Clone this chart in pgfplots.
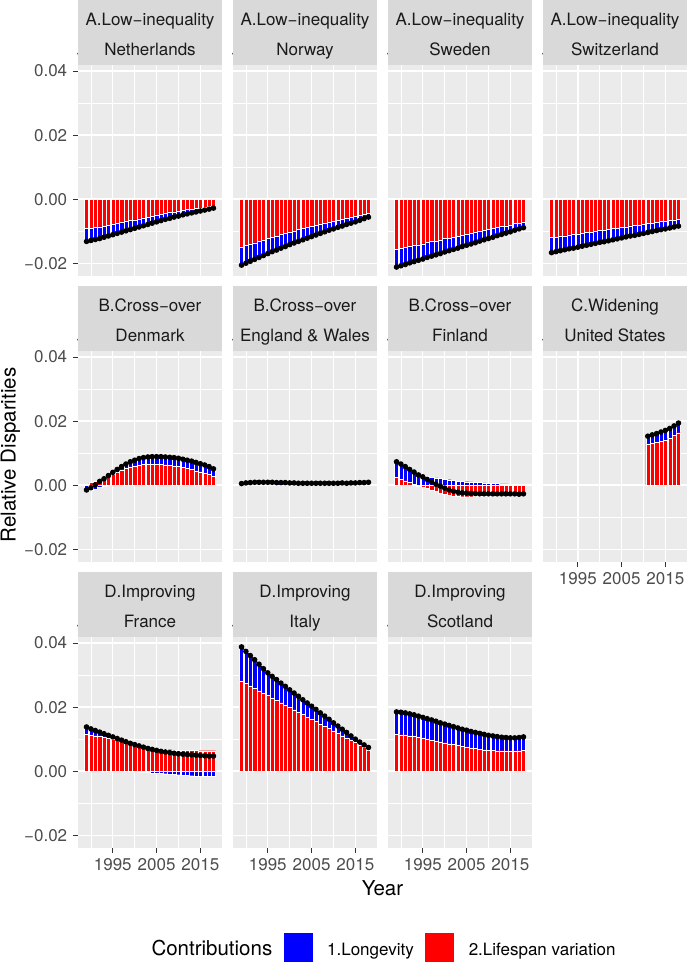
\documentclass[border=0pt]{standalone}
\usepackage{fontspec}
\setmainfont{TeX Gyre Heros}
\usepackage{pgfplots}
\usepackage{pgfplotstable}
\pgfplotsset{compat=1.18}
\definecolor{panelbg}{HTML}{EBEBEB}
\definecolor{stripbg}{HTML}{D9D9D9}
\definecolor{ticktext}{HTML}{4D4D4D}
\definecolor{tickcol}{HTML}{333333}
\definecolor{striptext}{HTML}{1A1A1A}
\definecolor{lvred}{HTML}{FF0000}
\definecolor{lgblue}{HTML}{0000FF}
\newcommand{\fs}{\fontsize{17}{20}\selectfont}
\newcommand{\fl}{\fontsize{20.5}{24}\selectfont}

% year, lv = 2.Lifespan variation, lg = 1.Longevity
\pgfplotstableread{
year lv lg
1989 -0.0092 -0.0040
1990 -0.0090 -0.0039
1991 -0.0088 -0.0038
1992 -0.0086 -0.0037
1993 -0.0084 -0.0035
1994 -0.0081 -0.0034
1995 -0.0078 -0.0033
1996 -0.0075 -0.0032
1997 -0.0072 -0.0031
1998 -0.0069 -0.0030
1999 -0.0066 -0.0029
2000 -0.0064 -0.0027
2001 -0.0061 -0.0026
2002 -0.0058 -0.0025
2003 -0.0055 -0.0024
2004 -0.0052 -0.0023
2005 -0.0049 -0.0022
2006 -0.0046 -0.0021
2007 -0.0044 -0.0019
2008 -0.0042 -0.0018
2009 -0.0039 -0.0017
2010 -0.0037 -0.0016
2011 -0.0034 -0.0015
2012 -0.0032 -0.0014
2013 -0.0030 -0.0013
2014 -0.0029 -0.0011
2015 -0.0027 -0.0010
2016 -0.0025 -0.0009
2017 -0.0023 -0.0008
2018 -0.0021 -0.0007
}\NLD
\pgfplotstableread{
year lv lg
1989 -0.0150 -0.0056
1990 -0.0145 -0.0055
1991 -0.0141 -0.0053
1992 -0.0136 -0.0052
1993 -0.0132 -0.0050
1994 -0.0127 -0.0049
1995 -0.0123 -0.0047
1996 -0.0118 -0.0046
1997 -0.0115 -0.0044
1998 -0.0110 -0.0043
1999 -0.0107 -0.0041
2000 -0.0102 -0.0040
2001 -0.0099 -0.0038
2002 -0.0095 -0.0037
2003 -0.0092 -0.0035
2004 -0.0088 -0.0034
2005 -0.0085 -0.0032
2006 -0.0081 -0.0031
2007 -0.0078 -0.0029
2008 -0.0074 -0.0028
2009 -0.0071 -0.0026
2010 -0.0068 -0.0025
2011 -0.0065 -0.0023
2012 -0.0062 -0.0022
2013 -0.0059 -0.0020
2014 -0.0056 -0.0019
2015 -0.0054 -0.0017
2016 -0.0050 -0.0016
2017 -0.0047 -0.0014
2018 -0.0043 -0.0013
}\NOR
\pgfplotstableread{
year lv lg
1989 -0.0156 -0.0056
1990 -0.0153 -0.0055
1991 -0.0151 -0.0053
1992 -0.0147 -0.0052
1993 -0.0144 -0.0051
1994 -0.0142 -0.0049
1995 -0.0139 -0.0048
1996 -0.0135 -0.0047
1997 -0.0132 -0.0046
1998 -0.0130 -0.0044
1999 -0.0127 -0.0043
2000 -0.0123 -0.0042
2001 -0.0121 -0.0040
2002 -0.0118 -0.0039
2003 -0.0115 -0.0038
2004 -0.0112 -0.0036
2005 -0.0109 -0.0035
2006 -0.0106 -0.0034
2007 -0.0104 -0.0032
2008 -0.0100 -0.0031
2009 -0.0097 -0.0030
2010 -0.0095 -0.0028
2011 -0.0092 -0.0027
2012 -0.0088 -0.0026
2013 -0.0085 -0.0025
2014 -0.0083 -0.0023
2015 -0.0080 -0.0022
2016 -0.0076 -0.0021
2017 -0.0074 -0.0019
2018 -0.0071 -0.0018
}\SWE
\pgfplotstableread{
year lv lg
1989 -0.0120 -0.0047
1990 -0.0118 -0.0046
1991 -0.0116 -0.0045
1992 -0.0114 -0.0044
1993 -0.0111 -0.0044
1994 -0.0110 -0.0043
1995 -0.0108 -0.0042
1996 -0.0106 -0.0041
1997 -0.0104 -0.0040
1998 -0.0102 -0.0039
1999 -0.0100 -0.0038
2000 -0.0097 -0.0038
2001 -0.0096 -0.0037
2002 -0.0094 -0.0036
2003 -0.0092 -0.0035
2004 -0.0090 -0.0034
2005 -0.0088 -0.0033
2006 -0.0086 -0.0032
2007 -0.0083 -0.0032
2008 -0.0082 -0.0031
2009 -0.0080 -0.0030
2010 -0.0078 -0.0029
2011 -0.0076 -0.0028
2012 -0.0074 -0.0027
2013 -0.0072 -0.0026
2014 -0.0069 -0.0026
2015 -0.0068 -0.0025
2016 -0.0066 -0.0024
2017 -0.0064 -0.0023
2018 -0.0062 -0.0022
}\CHE
\pgfplotstableread{
year lv lg
1989 0.0003 -0.0018
1990 0.0008 -0.0016
1991 0.0013 -0.0012
1992 0.0019 -0.0007
1993 0.0024 -0.0004
1994 0.0030 0.0000
1995 0.0036 0.0004
1996 0.0042 0.0007
1997 0.0048 0.0010
1998 0.0053 0.0013
1999 0.0057 0.0016
2000 0.0060 0.0018
2001 0.0063 0.0020
2002 0.0065 0.0021
2003 0.0066 0.0022
2004 0.0066 0.0023
2005 0.0066 0.0023
2006 0.0065 0.0024
2007 0.0064 0.0024
2008 0.0062 0.0025
2009 0.0060 0.0026
2010 0.0058 0.0026
2011 0.0055 0.0026
2012 0.0052 0.0026
2013 0.0049 0.0026
2014 0.0045 0.0026
2015 0.0042 0.0025
2016 0.0038 0.0025
2017 0.0034 0.0024
2018 0.0028 0.0023
}\DNK
\pgfplotstableread{
year lv lg
1989 0.0001 0.0004
1990 0.0002 0.0005
1991 0.0002 0.0006
1992 0.0002 0.0007
1993 0.0002 0.0007
1994 0.0002 0.0007
1995 0.0002 0.0007
1996 0.0002 0.0007
1997 0.0001 0.0007
1998 0.0001 0.0007
1999 0.0001 0.0007
2000 0.0000 0.0007
2001 0.0000 0.0007
2002 -0.0001 0.0007
2003 -0.0001 0.0007
2004 -0.0001 0.0007
2005 -0.0001 0.0007
2006 -0.0001 0.0007
2007 -0.0001 0.0007
2008 -0.0001 0.0007
2009 -0.0001 0.0007
2010 -0.0001 0.0007
2011 -0.0001 0.0007
2012 0.0000 0.0007
2013 0.0000 0.0006
2014 0.0001 0.0006
2015 0.0001 0.0006
2016 0.0002 0.0006
2017 0.0002 0.0006
2018 0.0003 0.0006
}\EW
\pgfplotstableread{
year lv lg
1989 0.0024 0.0049
1990 0.0019 0.0047
1991 0.0014 0.0044
1992 0.0008 0.0041
1993 0.0003 0.0038
1994 -0.0003 0.0035
1995 -0.0005 0.0031
1996 -0.0010 0.0028
1997 -0.0015 0.0025
1998 -0.0020 0.0023
1999 -0.0024 0.0021
2000 -0.0028 0.0019
2001 -0.0032 0.0017
2002 -0.0034 0.0015
2003 -0.0035 0.0013
2004 -0.0036 0.0012
2005 -0.0036 0.0011
2006 -0.0036 0.0010
2007 -0.0035 0.0009
2008 -0.0035 0.0008
2009 -0.0034 0.0007
2010 -0.0033 0.0006
2011 -0.0032 0.0005
2012 -0.0032 0.0005
2013 -0.0031 0.0004
2014 -0.0031 0.0004
2015 -0.0030 0.0003
2016 -0.0030 0.0003
2017 -0.0030 0.0002
2018 -0.0029 0.0002
}\FIN
\pgfplotstableread{
year lv lg
2011 0.0129 0.0024
2012 0.0131 0.0026
2013 0.0134 0.0027
2014 0.0137 0.0029
2015 0.0141 0.0030
2016 0.0147 0.0030
2017 0.0155 0.0030
2018 0.0164 0.0030
}\USA
\pgfplotstableread{
year lv lg
1989 0.0115 0.0023
1990 0.0113 0.0019
1991 0.0111 0.0016
1992 0.0108 0.0014
1993 0.0105 0.0012
1994 0.0102 0.0010
1995 0.0099 0.0008
1996 0.0096 0.0006
1997 0.0093 0.0004
1998 0.0090 0.0002
1999 0.0087 0.0000
2000 0.0084 -0.0001
2001 0.0081 -0.0002
2002 0.0078 -0.0003
2003 0.0075 -0.0004
2004 0.0073 -0.0005
2005 0.0071 -0.0006
2006 0.0069 -0.0007
2007 0.0068 -0.0008
2008 0.0067 -0.0009
2009 0.0066 -0.0010
2010 0.0065 -0.0011
2011 0.0065 -0.0012
2012 0.0065 -0.0013
2013 0.0065 -0.0014
2014 0.0065 -0.0015
2015 0.0064 -0.0015
2016 0.0064 -0.0016
2017 0.0064 -0.0017
2018 0.0064 -0.0017
}\FRA
\pgfplotstableread{
year lv lg
1989 0.0282 0.0106
1990 0.0274 0.0100
1991 0.0266 0.0095
1992 0.0258 0.0090
1993 0.0251 0.0083
1994 0.0243 0.0077
1995 0.0236 0.0071
1996 0.0229 0.0067
1997 0.0221 0.0065
1998 0.0214 0.0061
1999 0.0206 0.0059
2000 0.0199 0.0055
2001 0.0192 0.0052
2002 0.0184 0.0050
2003 0.0177 0.0046
2004 0.0169 0.0044
2005 0.0162 0.0041
2006 0.0155 0.0038
2007 0.0147 0.0035
2008 0.0140 0.0032
2009 0.0133 0.0029
2010 0.0126 0.0025
2011 0.0119 0.0022
2012 0.0111 0.0020
2013 0.0104 0.0017
2014 0.0097 0.0013
2015 0.0090 0.0010
2016 0.0082 0.0009
2017 0.0074 0.0008
2018 0.0066 0.0008
}\ITA
\pgfplotstableread{
year lv lg
1989 0.0115 0.0070
1990 0.0114 0.0070
1991 0.0113 0.0069
1992 0.0111 0.0068
1993 0.0109 0.0067
1994 0.0107 0.0065
1995 0.0104 0.0064
1996 0.0101 0.0063
1997 0.0098 0.0062
1998 0.0095 0.0061
1999 0.0092 0.0059
2000 0.0089 0.0058
2001 0.0086 0.0057
2002 0.0083 0.0056
2003 0.0080 0.0055
2004 0.0078 0.0053
2005 0.0076 0.0052
2006 0.0073 0.0051
2007 0.0071 0.0050
2008 0.0069 0.0049
2009 0.0067 0.0048
2010 0.0066 0.0046
2011 0.0065 0.0045
2012 0.0064 0.0044
2013 0.0064 0.0042
2014 0.0063 0.0042
2015 0.0063 0.0041
2016 0.0063 0.0041
2017 0.0064 0.0041
2018 0.0065 0.0042
}\SCO

\newcommand{\bluetop}{((\thisrow{lv}>0 && \thisrow{lg}>0) || (\thisrow{lv}<0 && \thisrow{lg}<0)) ? (\thisrow{lv}+\thisrow{lg}) : (\thisrow{lg})}

\newcommand{\panelplots}[1]{%
 \addplot[ybar, bar width=0.95, fill=lgblue, draw=white, line width=0.25pt, forget plot] table[x=year, y expr=\bluetop] {#1};
 \addplot[ybar, bar width=0.95, fill=lvred, draw=white, line width=0.25pt, forget plot] table[x=year, y=lv] {#1};
 \addplot[black, line width=1.1pt, mark=*, mark size=2.2pt, forget plot] table[x=year, y expr=\thisrow{lv}+\thisrow{lg}] {#1};
}

\pgfplotsset{
 panel/.style={
   scale only axis, width=144pt, height=211pt,
   xmin=1987.05, xmax=2019.95, ymin=-0.0240, ymax=0.0419,
   axis background/.style={fill=panelbg},
   axis line style={draw=none},
   xtick={1995,2005,2015}, minor xtick={1990,2000,2010},
   ytick={-0.02,0,0.02,0.04}, minor ytick={-0.01,0.01,0.03},
   xmajorgrids, ymajorgrids, xminorgrids, yminorgrids,
   major grid style={white, line width=1.4pt},
   minor grid style={white, line width=0.7pt},
   xticklabels={}, yticklabels={},
   tick align=outside, major tick length=5pt, minor tick length=0pt,
   tick pos=left,
   xtick style={draw=none}, ytick style={draw=none},
   ticklabel style={font=\fs, text=ticktext, inner sep=0pt},
   xticklabel style={anchor=north, yshift=-4.8pt},
   yticklabel style={anchor=east, xshift=-5.6pt},
 },
 strip/.style 2 args={
   extra description/.code={
     \fill[stripbg] (axis description cs:0,1) rectangle ([yshift=65pt]axis description cs:1,1);
     \node[font=\fs, text=striptext, anchor=base, inner sep=0pt] at ([yshift=40pt]axis description cs:0.5,1) {#1};
     \node[font=\fs, text=striptext, anchor=base, inner sep=0pt] at ([yshift=10pt]axis description cs:0.5,1) {#2};
   }
 },
 yleft/.style={yticklabels={−0.02,0.00,0.02,0.04}, ytick style={draw=tickcol, line width=1.1pt}},
 xbottom/.style={xticklabels={1995,2005,2015}, xtick style={draw=tickcol, line width=1.1pt}},
}

\begin{document}
\begin{tikzpicture}
\path[use as bounding box] (0pt,0pt) rectangle (688pt,-964pt);
% Row 1
\begin{axis}[panel, at={(78pt,-65pt)}, anchor=north west, yleft, strip={A.Low−inequality}{Netherlands}]
\panelplots{\NLD}
\end{axis}
\begin{axis}[panel, at={(233pt,-65pt)}, anchor=north west, strip={A.Low−inequality}{Norway}]
\panelplots{\NOR}
\end{axis}
\begin{axis}[panel, at={(388pt,-65pt)}, anchor=north west, strip={A.Low−inequality}{Sweden}]
\panelplots{\SWE}
\end{axis}
\begin{axis}[panel, at={(543pt,-65pt)}, anchor=north west, strip={A.Low−inequality}{Switzerland}]
\panelplots{\CHE}
\end{axis}
% Row 2
\begin{axis}[panel, at={(78pt,-351pt)}, anchor=north west, yleft, strip={B.Cross−over}{Denmark},
  ylabel={Relative Disparities}, ylabel style={font=\fl, at={(axis description cs:-0.4340,0.5071)}, anchor=base, inner sep=0pt}]
\panelplots{\DNK}
\end{axis}
\begin{axis}[panel, at={(233pt,-351pt)}, anchor=north west, strip={B.Cross−over}{England \& Wales}]
\panelplots{\EW}
\end{axis}
\begin{axis}[panel, at={(388pt,-351pt)}, anchor=north west, strip={B.Cross−over}{Finland}]
\panelplots{\FIN}
\end{axis}
\begin{axis}[panel, at={(543pt,-351pt)}, anchor=north west, xbottom, strip={C.Widening}{United States}]
\panelplots{\USA}
\end{axis}
% Row 3
\begin{axis}[panel, at={(78pt,-637pt)}, anchor=north west, yleft, xbottom, strip={D.Improving}{France}]
\panelplots{\FRA}
\end{axis}
\begin{axis}[panel, at={(233pt,-637pt)}, anchor=north west, xbottom, strip={D.Improving}{Italy},
  xlabel={Year}, xlabel style={font=\fl, at={(axis description cs:1.0382,-0.2227)}, anchor=base, inner sep=0pt},
  legend columns=3,
  legend style={at={(axis description cs:-0.6632,-0.4716)}, anchor=west, draw=none, fill=none,
    inner sep=0pt, outer sep=0pt, font=\fs,
    cells={anchor=base west, inner sep=0pt},
    /tikz/every odd column/.append style={column sep=12pt},
    /tikz/every even column/.append style={column sep=8.5pt}}]
\panelplots{\ITA}
\addlegendimage{empty legend}
\addlegendentry{\fl Contributions}
\addlegendimage{legend image code/.code={\filldraw[fill=lgblue, draw=white, line width=0.4pt] (0pt,-7.5pt) rectangle (30pt,22.5pt);}}
\addlegendentry{1.Longevity}
\addlegendimage{legend image code/.code={\filldraw[fill=lvred, draw=white, line width=0.4pt] (0pt,-7.5pt) rectangle (30pt,22.5pt);}}
\addlegendentry{2.Lifespan variation}
\end{axis}
\begin{axis}[panel, at={(388pt,-637pt)}, anchor=north west, xbottom, strip={D.Improving}{Scotland}]
\panelplots{\SCO}
\end{axis}
\end{tikzpicture}
\end{document}
